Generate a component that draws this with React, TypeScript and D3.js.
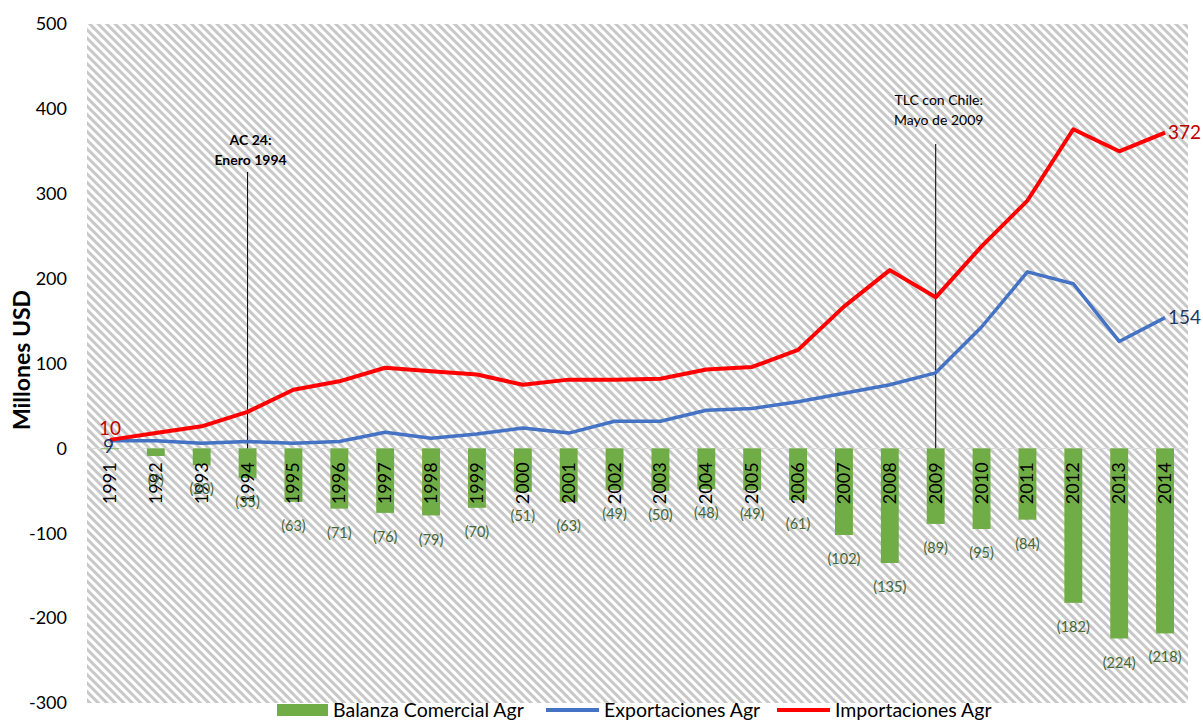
import React, { useEffect, useRef } from 'react';
import * as d3 from 'd3';

const years = [
  '1991', '1992', '1993', '1994', '1995', '1996', '1997', '1998', '1999', '2000', '2001', '2002',
  '2003', '2004', '2005', '2006', '2007', '2008', '2009', '2010', '2011', '2012', '2013', '2014'
];
const balanza = [-1, -9, -20, -35, -63, -71, -76, -79, -70, -51, -63, -49, -50, -48, -49, -61, -102, -135, -89, -95, -84, -182, -224, -218];
const exportaciones = [9, 9, 6, 8, 6, 8, 19, 12, 17, 24, 18, 32, 32, 45, 47, 55, 65, 75, 89, 143, 208, 194, 126, 154];
const importaciones = [10, 18, 26, 43, 69, 79, 95, 91, 87, 75, 81, 81, 82, 93, 96, 116, 167, 210, 178, 238, 292, 376, 350, 372];
const yTicks = [500, 400, 300, 200, 100, 0, -100, -200, -300];
const legendItems = ['Balanza Comercial Agr', 'Exportaciones Agr', 'Importaciones Agr'];

const FONT = 'Lato, "Open Sans", sans-serif';

const App = () => {
  const ref = useRef<SVGSVGElement>(null);

  useEffect(() => {
    const svg = d3.select(ref.current);
    svg.selectAll('*').remove();

    const left = 87, right = 1188, top = 24, bottom = 703;

    const x = d3.scaleBand().domain(years).range([left, right]).padding(0);
    const y = d3.scaleLinear().domain([-300, 500]).range([bottom, top]);
    const cx = (d: string) => x(d)! + x.bandwidth() / 2;
    const barW = x.bandwidth() * 0.39;

    // hatched plot area
    const defs = svg.append('defs');
    const pat = defs
      .append('pattern')
      .attr('id', 'hatch')
      .attr('patternUnits', 'userSpaceOnUse')
      .attr('width', 6)
      .attr('height', 6)
      .attr('patternTransform', 'rotate(45)');
    pat.append('rect').attr('width', 6).attr('height', 6).attr('fill', '#ffffff');
    pat.append('rect').attr('width', 6).attr('height', 3).attr('fill', '#c8c8c8');

    svg
      .append('rect')
      .attr('x', left)
      .attr('y', top)
      .attr('width', right - left)
      .attr('height', bottom - top)
      .attr('fill', 'url(#hatch)');

    // zero line
    svg
      .append('line')
      .attr('x1', left)
      .attr('x2', right)
      .attr('y1', y(0))
      .attr('y2', y(0))
      .attr('stroke', '#d9d9d9')
      .attr('stroke-width', 1);

    // y axis labels
    svg
      .append('g')
      .selectAll('text')
      .data(yTicks)
      .join('text')
      .attr('x', 67)
      .attr('y', (d) => y(d))
      .attr('dy', '0.35em')
      .attr('text-anchor', 'end')
      .attr('font-family', FONT)
      .attr('font-size', 18)
      .attr('fill', '#000')
      .text((d) => d);

    svg
      .append('text')
      .attr('transform', `translate(30,${360}) rotate(-90)`)
      .attr('text-anchor', 'middle')
      .attr('font-family', FONT)
      .attr('font-weight', 'bold')
      .attr('font-size', 23)
      .text('Millones USD');

    // bars
    svg
      .append('g')
      .selectAll('rect')
      .data(balanza)
      .join('rect')
      .attr('x', (d, i) => cx(years[i]) - barW / 2)
      .attr('y', y(0))
      .attr('width', barW)
      .attr('height', (d) => y(d) - y(0))
      .attr('fill', '#70ad47');

    // year labels
    svg
      .append('g')
      .selectAll('text')
      .data(years)
      .join('text')
      .attr('transform', (d) => `translate(${cx(d) + 6},${y(0) + 14}) rotate(-90)`)
      .attr('text-anchor', 'end')
      .attr('font-family', FONT)
      .attr('font-size', 18)
      .attr('fill', '#000')
      .text((d) => d);

    // bar value labels
    svg
      .append('g')
      .selectAll('text')
      .data(balanza)
      .join('text')
      .filter((d, i) => i > 0)
      .attr('x', (d, i) => cx(years[i + 1]))
      .attr('y', (d) => y(d) + 24)
      .attr('dy', '0.35em')
      .attr('text-anchor', 'middle')
      .attr('font-family', FONT)
      .attr('font-size', 14.5)
      .attr('fill', '#44683a')
      .text((d) => `(${Math.abs(d)})`);

    // annotation lines
    const notes = [
      { year: '1994', top: 172, lines: ['AC 24:', 'Enero 1994'], bold: true, ty: 140 },
      { year: '2009', top: 144, lines: ['TLC con Chile:', 'Mayo de 2009'], bold: false, ty: 100 }
    ];
    notes.forEach((n) => {
      svg
        .append('line')
        .attr('x1', cx(n.year))
        .attr('x2', cx(n.year))
        .attr('y1', n.top)
        .attr('y2', y(0))
        .attr('stroke', '#000')
        .attr('stroke-width', 1);
      n.lines.forEach((t, k) => {
        svg
          .append('text')
          .attr('x', cx(n.year) + 3)
          .attr('y', n.ty + k * 20)
          .attr('dy', '0.35em')
          .attr('text-anchor', 'middle')
          .attr('font-family', FONT)
          .attr('font-weight', n.bold ? 'bold' : 'normal')
          .attr('font-size', 14)
          .attr('fill', '#000')
          .text(t);
      });
    });

    // lines
    const line = d3
      .line<number>()
      .x((d, i) => cx(years[i]))
      .y((d) => y(d));

    svg
      .append('path')
      .datum(exportaciones)
      .attr('d', line)
      .attr('fill', 'none')
      .attr('stroke', '#4472c4')
      .attr('stroke-width', 3.5)
      .attr('stroke-linejoin', 'round');

    svg
      .append('path')
      .datum(importaciones)
      .attr('d', line)
      .attr('fill', 'none')
      .attr('stroke', '#ff0000')
      .attr('stroke-width', 4)
      .attr('stroke-linejoin', 'round');

    // end labels
    const last = years.length - 1;
    const endLabels = [
      { v: importaciones[0], i: 0, color: '#c00000', dx: -11, dy: -12 },
      { v: exportaciones[0], i: 0, color: '#1f3864', dx: -7, dy: 6 },
      { v: importaciones[last], i: last, color: '#c00000', dx: 3, dy: 0 },
      { v: exportaciones[last], i: last, color: '#1f3864', dx: 3, dy: 0 }
    ];
    svg
      .append('g')
      .selectAll('text')
      .data(endLabels)
      .join('text')
      .attr('x', (d) => cx(years[d.i]) + d.dx)
      .attr('y', (d) => y(d.v) + d.dy)
      .attr('dy', '0.35em')
      .attr('text-anchor', 'start')
      .attr('font-family', FONT)
      .attr('font-size', 19)
      .attr('fill', (d) => d.color)
      .text((d) => d.v);

    // legend
    const lg = svg.append('g').attr('font-family', FONT).attr('font-size', 19.5);
    const lx = [277, 546, 777];
    const colors = ['#70ad47', '#4472c4', '#ff0000'];
    legendItems.forEach((name, i) => {
      if (i === 0) {
        lg.append('rect').attr('x', lx[i]).attr('y', 704).attr('width', 51).attr('height', 12).attr('fill', colors[i]);
      } else {
        lg.append('line')
          .attr('x1', lx[i])
          .attr('x2', lx[i] + 53)
          .attr('y1', 710)
          .attr('y2', 710)
          .attr('stroke', colors[i])
          .attr('stroke-width', 4);
      }
      lg.append('text')
        .attr('x', lx[i] + (i === 0 ? 56 : 58))
        .attr('y', 710)
        .attr('dy', '0.35em')
        .attr('fill', '#000')
        .text(name);
    });
  }, []);

  return (
    <svg
      ref={ref}
      width={1203}
      height={720}
      style={{ position: 'absolute', left: 0, top: 0, background: '#fff' }}
    />
  );
};

export default App;
